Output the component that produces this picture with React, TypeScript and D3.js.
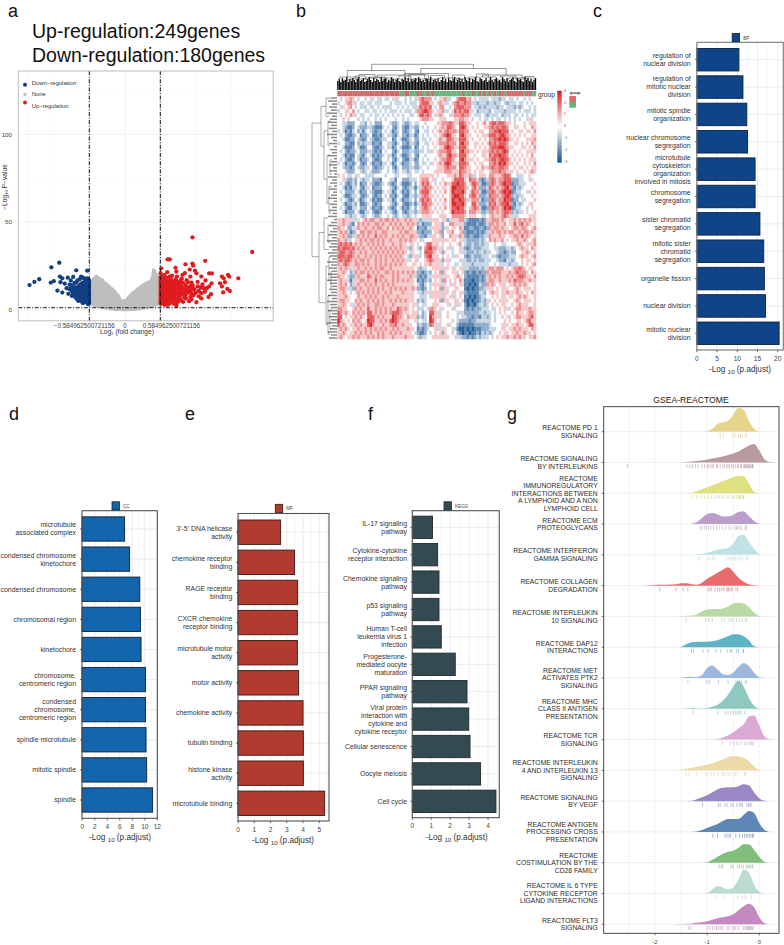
import React from "react";
import * as d3 from "d3";

const FONT = "'Liberation Sans', Arial, sans-serif";

/* ---------- a: volcano ---------- */
const downPoints: [number, number][] = [
[-1.57,14.2],[-1.49,16],[-1.41,17.5],[-1.21,24.3],[-1.08,26.9],[-1.22,15.6],[-1.17,16.4],[-1.07,19],[-1.06,15.8],[-1.03,18],[-1.11,11],[-1.03,9.9],[-.99,15],[-.96,12.4],[-.94,18.4],[-.93,9.2],[-.91,14.4],[-.89,16.8],[-.88,11],[-.87,8],[-.86,13],[-.85,18.8],[-.83,15.4],[-.82,9.8],[-.8,22.6],[-.8,12.2],[-.79,7],[-.78,16.8],[-.77,5.2],[-.76,10.2],[-.75,14],[-.74,17.6],[-.73,8],[-.72,19],[-.71,12],[-.7,6],[-.69,3.9],[-.69,15.6],[-.68,10],[-.67,18],[-.66,13.4],[-.65,7.6],[-.64,4.8],[-.64,16],[-.63,11],[-.62,22.4],[-.62,9],[-.62,14],[-.61,5.8],[-.61,17.6],[-.6,12],[-.6,7.4],[-.6,3.8],[-.59,15.6],[-.59,10],[-.59,13],[-.59,5],[-.59,8],[-.59,17],[-.63,6.6],[-.66,5.8],[-.69,8.4],[-.72,5],[-.75,7],[-.78,9],[-.81,7],[-.84,9.8],[-.75,11],[-.72,15],[-.68,12.6],[-.64,9],[-.61,3.4],[-.63,13.4],[-.65,11.4],[-.67,9],[-.7,10.4],[-.73,12.4],[-.77,13],[-.8,15.6],[-.84,12],[-.88,14],[-.92,12],[-.61,15],[-.61,11],[-.6,9],[-.6,6],[-.62,18],[-.65,16.6],[-.69,18.4],[-.71,8],[-.74,9.6],[-.77,7.4],[-.8,10],[-.83,11],[-.86,10],[-.66,4.6],[-.72,7],[-.65,14],[-.67,6.6],[-.59,3.8],
[-.59,4.5],[-.59,6.5],[-.59,9],[-.59,11.5],[-.59,14.5],[-.59,16],[-.61,4.5],[-.61,7],[-.61,9],[-.61,13],[-.62,5],[-.62,12],[-.62,16],[-.63,8],[-.63,10.5],[-.63,15],[-.65,6],[-.65,8.5],[-.65,12.5],[-.67,5],[-.67,7.5],[-.67,11],[-.67,14.5],[-.69,6],[-.69,11.5],[-.69,13.5],[-.71,5],[-.71,10],[-.71,13.5],[-.73,6],[-.73,10],[-.75,5.5],[-.75,9],[-.78,6],[-.78,11],[-.82,8],[-.82,13],[-.86,12]
];
const upPoints: [number, number][] = [
[1.115,41.3],[2.1,33],[.705,28.8],[.74,28.8],[1.325,28],[1.0,26],[1.115,26.4],[1.125,25.2],[.6,23.7],[.835,24],[.85,21.8],[1.07,23],[1.155,22.4],[1.18,20.9],[.99,21],[.95,20],[1.08,19],[1.26,19],[1.39,20.8],[1.435,20.8],[1.6,19],[1.63,18],[1.7,20],[1.72,19],[1.87,18],[1.57,15.2],[1.65,15.8],[1.6,13.4],[1.69,12],[1.73,10.8],[1.62,10],[1.43,15.2],[1.39,13.4],[1.35,12.4],[1.33,16.8],[1.18,4.4],[1.26,6.6],[1.38,7.4],[1.13,8.4],[1.26,9.6],[1.15,11.4],[1.32,10.4],[1.01,6.6],[.92,6],[.86,4.2],[.74,5],[.59,21],[.61,19],[.65,20],[.7,21.5],[.78,19.5],[.86,19],[.94,17.8],[1.02,17],[1.1,15.6],[1.2,16],[1.28,14.5],[.59,17],[.59,14],[.59,11],[.59,8],[.59,5],[.6,16],[.6,12.5],[.6,9.5],[.6,6.5],[.6,3.5],[.62,18],[.62,15],[.62,13],[.62,10.5],[.62,7.5],[.62,4.5],[.65,17],[.65,14.5],[.65,12],[.65,9],[.65,6],[.65,3.5],[.68,18.5],[.68,15.8],[.68,13],[.68,10],[.68,7.5],[.68,5],[.71,17],[.71,14],[.71,11.5],[.71,8.5],[.71,6],[.71,3],[.74,19],[.74,15.5],[.74,12.8],[.74,10],[.74,7],[.77,17],[.77,14],[.77,11],[.77,8.5],[.77,5],[.8,16],[.8,13],[.8,10],[.8,7],[.8,3.6],[.84,17.5],[.84,14.4],[.84,11.5],[.84,8.8],[.84,6],[.88,15.5],[.88,12.5],[.88,9.8],[.88,7],[.92,17],[.92,14],[.92,11],[.92,8.4],[.96,15.4],[.96,12.6],[.96,9.6],[.96,4.6],[1.0,14.2],[1.0,11],[1.0,8.6],[1.04,15.8],[1.04,12.6],[1.04,9.8],[1.08,13.6],[1.08,10.6],[1.08,7.4],[1.12,14],[1.14,12],[1.17,9.8],[1.2,13.4],[1.22,10.8],[1.25,12.8],[.82,5],[.9,5.2],[.98,7],[.73,3.6],[.66,2.9],[.85,2.5],[1.06,5],[1.22,7.8],[1.3,12.4],[1.42,9],[1.1,6],
[.59,4],[.59,6.5],[.59,9.5],[.59,12.5],[.59,15.5],[.59,18.5],[.6,7.8],[.6,11],[.6,14],[.63,5.5],[.63,8.8],[.63,11.8],[.63,16],[.66,4.5],[.66,7.5],[.66,10.5],[.66,13.4],[.66,16],[.69,4],[.69,6.4],[.69,9],[.69,11.8],[.69,14.6],[.69,17],[.72,4.4],[.72,7.4],[.72,10],[.72,12.8],[.72,15.6],[.75,5.6],[.75,8.6],[.75,11.4],[.75,14],[.75,17],[.78,6.6],[.78,10],[.78,12.6],[.78,15.4],[.82,8.4],[.82,11.6],[.82,14.6],[.86,6.4],[.86,10.4],[.86,13.4],[.86,16.2],[.9,8],[.9,12],[.9,15],[.94,10],[.94,13],[.98,12],[.98,9],[1.02,13],[1.06,11],[1.1,9.4],[1.1,12]
];
const greyX = [-.585,-.55,-.52,-.5,-.47,-.45,-.42,-.4,-.37,-.35,-.32,-.3,-.27,-.25,-.22,-.2,-.17,-.15,-.12,-.1,-.07,-.05,-.02,0,.03,.05,.08,.1,.13,.15,.18,.2,.23,.25,.28,.3,.33,.35,.38,.4,.43,.45,.47,.5,.52,.55,.585];
const greyTop = [15,15.5,18,18,19.5,19,18,17.5,17.5,16,15.5,15,14,13.5,12.5,12,11,10,9,8,6,5.5,5,5.5,6,7,8,9,10,10.5,11,12,12.5,13,14,14.5,15,15.5,16,16,17,18.5,23,22,20,19,21];
const greyBottom = [3,3,2.8,2.5,2.2,2,1.8,1.5,1.3,1.2,1,.9,.8,.6,.5,.4,.3,.2,.2,.1,.1,0,0,0,0,0,.1,.1,.2,.2,.3,.4,.5,.6,.8,.9,1,1.2,1.3,1.5,1.8,2,2.2,2.5,2.8,3,3];
const volcanoXTicks = [-0.584962500721156, 0, 0.584962500721156];
const volcanoXLabels = ["\u22120.584962500721156", "0", "0.584962500721156"];
const volcanoYTicks = [0, 50, 100];
const volcanoLegend = [["Down\u2212regulation", "#123f80"], ["None", "#bebebe"], ["Up\u2212regulation", "#e01b1f"]];

/* ---------- b: heatmap ---------- */
const heatRows = [
"4345565434 4345343343 3435344343 4356766643 4556334467 7756434333 3433323343 3434434344",
"3445665343 3433433344 4343334343 3346777554 5653345676 6766332333 2332334323 3343343434",
"4354564343 3343343433 3344343434 3357676743 4664434677 7666433232 3333233433 3232344343",
"3445546434 4334334343 4333434333 4366787654 5563345767 6775342333 3243333233 3343433343",
"4345465343 3443433434 3434343443 3457767643 5654435666 7665433343 2333342333 4334343433",
"4454544434 3434434343 4443443434 4445666554 4553444556 6554344343 3434334343 4343443534",
"4433222443 3243422244 4322343223 4334434444 5566676557 7655445456 4677677655 4544454555",
"4432112432 2233211134 3421342113 3224343445 4565776547 8754545445 5676767764 4554454465",
"3431213423 1343212243 4312342123 4214433454 5656766657 7664454554 4667787774 5445545546",
"4342112341 2234112134 3321342213 3124343445 4567875547 8655445455 5777678765 4545454455",
"4431122432 1243211233 4412431123 4224334344 5655776557 7754544545 4667787875 5454445556",
"3442211423 2333122144 3321342213 3214433454 5666766647 8664455454 5767677764 4554545465",
"4431112431 1244211234 3312431112 4124343445 4557876557 7754454545 4677788765 5444554546",
"4342122342 2233212143 4421342223 3223343354 5666775547 8665545455 5676767874 4545445555",
"4431211432 1343121234 3312431123 4214434444 5655786657 7754454455 4767787764 5454545464",
"4342112431 2234211244 3421342113 3124343445 4566776547 8655545445 5677678775 4545454555",
"3431221342 1243122133 4312431223 4224334354 5657875557 7764454554 4667687865 5454454546",
"4432212432 2334212234 3421342223 3223443444 5556766647 7655445465 5676677664 4545545455",
"4443222443 2343222344 3432343323 4334344445 5556665557 6655454554 4566676655 5454454565",
"5454334354 4333344443 4443344433 4445555554 5444555657 6556334555 4665556776 4433344544",
"4453223243 2334222144 4331442223 3345666453 4454445777 7547665212 3676566777 2223344354",
"4342123241 2243211234 3212431112 4245767543 4546557787 7645776311 2676567877 1223534445",
"4431213342 1334122244 4321342123 3135676654 5455458877 7634675222 3765656786 2132344454",
"4342222431 2243211134 3312431213 4246777543 4546458777 8645766311 2676567878 1233443545",
"4431123342 1234212243 4221342113 3235676554 5454457887 7546775222 3766656787 2323344454",
"4343212431 2343121134 3312431223 4246767643 4546458778 7635666312 2676566877 1224534445",
"4431223241 1234212244 4321342112 3135776654 5455458877 8644775222 3767567786 2132344554",
"4342113342 2243122134 3212431213 4245676543 4546457787 7545676311 2676656878 1233443454",
"4431222431 1334211243 4321342123 3235666554 5454458777 7646665322 3665656776 2323345445",
"4443323343 2344322344 3432343323 4344555544 4555446666 6545554433 4565556765 3334444555",
"5565553354 5656655656 6565655656 5532333355 5455235556 6321111212 5566656545 5656565655",
"5565321465 6565566565 5656565565 6523122245 5524466535 5211112112 3665655645 5756756545",
"6554223565 5655656655 6465656556 5412213355 5523545546 5112211221 2656656554 5665665456",
"5656312546 6566565566 5555565665 5522122245 5624556445 6211121212 3565665656 6556566565",
"5565223565 6565575656 5565656556 6532213355 4524465536 5212211223 3655565545 5665756545",
"6556334556 5656656565 5655565656 5543344455 5535545545 5322222323 4656556454 5565565456",
"6767675656 5565656565 5565565543 5434457755 5454454456 4322322323 3443443344 4456545556",
"7677767565 6556565656 5656565532 5432467866 5534533445 3212322233 3443322233 2345655465",
"6776676556 5655656565 6565656543 5443477765 4525443445 3322232332 3344322123 2244556545",
"7776776565 5656565656 5656565432 5533467855 5434543354 4212322233 3433212223 3345655456",
"6767765656 6565565656 5565656533 4534456765 5525534445 3322323223 3344322133 2344545545",
"6567655665 6565565656 5656565544 5545455655 5534544334 3333233333 3443433332 3334545456",
"5656535565 5656565665 5655555555 5432334455 5535545545 5332222323 5665666454 5667654554",
"5565423656 6565656556 6565656565 6522123245 4625445534 5212112122 6566665556 5676665465",
"6554322565 5576565665 5565655556 5321213355 5535544565 4211111212 5656565565 6567765546",
"5655313556 6565575656 5565656565 5412123245 4526454546 5111011212 5665565556 5766655655",
"5656423565 5656565565 6565555555 5432134355 5535453545 5110101322 6565455545 5656565445",
"5665332656 5565656565 5656565655 6522124345 4625544554 4101011223 5554545554 4565455545",
"5565434565 6565656556 5655556555 5433235355 5535543545 5211111332 4565545565 5565545465",
"5556544465 5656565565 6555655555 5443334355 5535453545 4110101233 4454545545 5456565445",
"5665544656 5565656565 5656565655 5423234445 4625544554 5101011232 3545455554 4565455545",
"5565453565 6565566565 5565555554 5534334455 5444534535 4201102332 3454545544 5456555445",
"6655445656 5575565656 5655765654 5433343665 4534443544 4212122233 3433454553 4566555655",
"7656546565 6577565656 5677765554 5534234775 5344544433 3222222332 3343454544 5465545665",
"7745455656 5477756565 5587665465 5523234865 5344544434 3322122133 2343443453 4566555675",
"8654546565 4587755656 5787655554 4534334875 4544443432 2221223333 3343444545 4455456755",
"7565455656 5578655565 5667556555 4423223765 3544534421 1111122222 2344445554 5565545775",
"5656545565 5656565656 5565655565 5412123445 3535443310 0101011122 2333445545 5656555465",
"5565455656 5656556565 5656565555 4321124345 4525443421 0110112132 3234454554 5565565545",
"5654556565 5565656565 5565555655 5432334455 5535544533 2212123233 3454545565 5656554556",
].map((r) => r.replace(/ /g, ""));
const groupStrip = "RRRRRRRRRRRRRRRRRRRRRRRRRGGRRGGGRRGGRGRGGGGGGGGGGGRGGGRGGRGRGRGRGRRGRRRRRRRGRRGG";
const colLeafHeights = [9,11,8,12,9,10,13,8,11,9,12,10,8,11,13,9,10,12,8,9,11,13,10,8,12,9,11,10,8,13,9,11,12,8,10,9,13,11,8,10,12,9,8,11,10,13,9,12,8,11,9,10,12,8,13,11,9,10,8,12,11,9,13,8,10,11,9,12,8,10,13,9,11,8,12,10,9,11,13,8,10,12,9,11,8,13,10,9,12,8,11,10,13,9,8,12,11,9,10,12,8,9,13,10,8,11,12,9,10,8,13,11,9,12,8,10,11,13,9,8,12,10,11,9,8,13,10,12,9,11,8,10,12];
const colMerges = [
[17.3,68.5,19.5,21.5,25.7],[5,34,13,15,19.5],[42,85,16.5,15,21.5],[1,10,10,11,13],[20,46,12,11,15],[14,27,11,10,12],[34,56,11,12,16.5],[38,50,9,10,11],[73,93,13,12,15],[66,80,11,10,13],[86,98,10,11,12],[28,40,10,9,11],[51,62,10,10,12],[6,15,9,9,11],[60,70,9,10,11],[3,8,8,9,10],[22,30,9,8,10],[44,48,9,9,10],[76,84,9,9,10],[90,96,9,9,11],
[9,14,11,10,14],[16,24,11,10,13],[31,37,12,11,14],[47,54,12,11,14.5],[58,64,11,11,15],[70,76,12,12,16],[82,90,12,11,14],[94,99,11,10,13.5],[11,19,12,11,15.5],[36,44,12,11,15.5]
];
const rowLeafHeights = [6,9,5,8,6,10,5,7,9,6,8,5,10,6,4,8,3,7,5,9,3,6,8,4,7,3,9,5,7,3,8,4,6,9,3,7,5,8,4,9,3,6,8,4,7,9,5,10,6,8,5,9,7,5,10,6,8,5,9,6,10,7,5,8,6,9,5,10,7,6,9,5,8,6,10,5,7,9,6,8];
const rowMerges = [
[10.8,66,16,18,25],[3.9,20.4,11,13,16],[0.5,8,6,8,11],[14,34,9,10,13],[10,20,6,7,9],[24,44,7,8,10],[37,48,5,6,8],[56,85,13,11,18],[50,63,9,8,13],[53,60,6,6,9],[70,94,8,9,11],[66,76,6,7,8],[82,98,6,7,9],[88,96,5,5,7],[26,32,5,5,7],[72,79,5,5,6]
];
const heatLegendTicks = [3, 2, 1, 0, -1, -2, -3];

/* ---------- c-f: enrichment bars ---------- */
const bpLabels = ["regulation of\nnuclear division","regulation of\nmitotic nuclear\ndivision","mitotic spindle\norganization","nuclear chromosome\nsegregation","microtubule\ncytoskeleton\norganization\ninvolved in mitosis","chromosome\nsegregation","sister chromatid\nsegregation","mitotic sister\nchromatid\nsegregation","organelle fission","nuclear division","mitotic nuclear\ndivision"];
const bpValues = [10.4,11.4,12.35,12.55,14.4,14.4,15.6,16.55,16.7,17,20.35];
const bpTicks = [0,5,10,15,20];
const ccLabels = ["microtubule\nassociated complex","condensed chromosome\nkinetochore","condensed chromosome","chromosomal region","kinetochore","chromosome,\ncentromeric region","condensed\nchromosome,\ncentromeric region","spindle microtubule","mitotic spindle","spindle"];
const ccValues = [6.77,7.57,9.2,9.3,9.4,10.1,10.1,10.2,10.3,11.25];
const ccTicks = [0,2,4,6,8,10,12];
const mfLabels = ["3'-5' DNA helicase\nactivity","chemokine receptor\nbinding","RAGE receptor\nbinding","CXCR chemokine\nreceptor binding","microtubule motor\nactivity","motor activity","chemokine activity","tubulin binding","histone kinase\nactivity","microtubule binding"];
const mfValues = [2.62,3.48,3.67,3.65,3.65,3.73,4.0,4.02,4.02,5.33];
const mfTicks = [0,1,2,3,4,5];
const keggLabels = ["IL-17 signaling\npathway","Cytokine-cytokine\nreceptor interaction","Chemokine signaling\npathway","p53 signaling\npathway","Human T-cell\nleukemia virus 1\ninfection","Progesterone-\nmediated oocyte\nmaturation","PPAR signaling\npathway","Viral protein\ninteraction with\ncytokine and\ncytokine receptor","Cellular senescence","Oocyte meiosis","Cell cycle"];
const keggValues = [1.07,1.34,1.41,1.41,1.53,2.27,2.89,2.98,3.05,3.61,4.42];
const keggTicks = [0,1,2,3,4];

/* ---------- g: GSEA ridges ---------- */
const ridgeLabels = ["REACTOME PD 1\nSIGNALING","REACTOME SIGNALING\nBY INTERLEUKINS","REACTOME\nIMMUNOREGULATORY\nINTERACTIONS BETWEEN\nA LYMPHOID AND A NON\nLYMPHOID CELL","REACTOME ECM\nPROTEOGLYCANS","REACTOME INTERFERON\nGAMMA SIGNALING","REACTOME COLLAGEN\nDEGRADATION","REACTOME INTERLEUKIN\n10 SIGNALING","REACTOME DAP12\nINTERACTIONS","REACTOME MET\nACTIVATES PTK2\nSIGNALING","REACTOME MHC\nCLASS II ANTIGEN\nPRESENTATION","REACTOME TCR\nSIGNALING","REACTOME INTERLEUKIN\n4 AND INTERLEUKIN 13\nSIGNALING","REACTOME SIGNALING\nBY VEGF","REACTOME ANTIGEN\nPROCESSING CROSS\nPRESENTATION","REACTOME\nCOSTIMULATION BY THE\nCD28 FAMILY","REACTOME IL 6 TYPE\nCYTOKINE RECEPTOR\nLIGAND INTERACTIONS","REACTOME FLT3\nSIGNALING"];
const ridgeColors = ["#e6d48c","#b99a9e","#dfe080","#bc9ecd","#c0e2e7","#ea6b6b","#b9daa5","#5fb3c3","#9db8de","#8fc8be","#dba9d3","#ecdaa9","#9b88c7","#5f87b5","#81be79","#bddcd1","#c588c0"];
const ridgeStarts = [-1.1,-1.5,-1.4,-1.4,-1.3,-2.2,-1.6,-1.6,-1.6,-1.5,-.9,-1.6,-1.4,-1.3,-1.1,-1.1,-1.6];
const ridgeHeights = [
[0,.5,3,8,9.5,11,17,24,22,11,3,.3,0],
[0,.5,1,1.5,2,3,4,5,6,7.5,9,11,14,17,18.5,12,3,.5,0],
[0,.5,2,4,6,8,10,12,14,16,17.5,17,10,1.5,0,0],
[0,.3,2,6,10,11,9.5,7.5,7.5,9,12,12.5,8,3,.3,0],
[0,.5,1,2,3.5,5,6,7,11,19,20,13,6,.7,0],
[0,.3,.7,1,1,1.2,1.5,2.5,2.5,1.5,1,3,7,10,13,16,18.5,14,8,4,1.5,.4,0],
[0,.3,.7,1,2,5,7,7.5,7.5,8,10,13,13.7,13,9.5,4,.5,0],
[0,.3,3,5,5.5,5.5,5.5,6,7,9,11,13,13,11,7,1,0],
[0,.2,1,1.3,1,3,10,12.5,8.5,4,3,5.5,11,15,12,5.5,.7,0],
[0,.2,.8,.5,.2,.7,2,4,8,14,22,28,22,11,3,.3,0],
[0,.5,2,4,7,11,15,23,24,14,3,.3,0],
[0,.5,1.5,2.5,3.5,4.5,5.5,7,9,11,13,14.3,14,12.5,9,4,.5,0],
[0,.3,2,4,6,9,12,13.5,14,14,15,17,16,9,3,.3,0],
[0,.5,2,4,6,8,11,13,13,13,17,21,19,9,2,0],
[0,.5,3,6,9,11,12,15,18.5,18.5,13,6,1,0],
[0,.5,4,7.5,6,4,6,14,24,21,9,1.5,0],
[0,.2,.5,.8,1.5,2,3,4.5,6,7,8,10,14,18,20.5,17,7,1,0],
];
const ridgeRugs = [
[-.75,-.69,-.51,-.47,-.4,-.36,-.32,-.27,-.24],
[-2.53,-1.39,-1.33,-1.28,-1.22,-1.17,-1.1,-1.05,-1.0,-.97,-.93,-.9,-.87,-.82,-.8,-.75,-.7,-.67,-.63,-.6,-.57,-.53,-.5,-.46,-.42,-.4,-.36,-.34,-.3,-.28,-.27,-.25,-.23,-.21,-.2,-.18,-.16,-.14,-.13,-.12],
[-1.28,-1.2,-1.12,-1.05,-.98,-.92,-.85,-.8,-.76,-.72,-.68,-.62,-.58,-.52,-.48,-.44,-.4,-.38,-.36,-.33,-.31,-.3],
[-1.13,-1.09,-1.05,-1.01,-.97,-.93,-.88,-.82,-.76,-.7,-.64,-.58,-.54,-.47,-.44,-.42,-.38,-.35,-.27,-.25],
[-1.16,-1.0,-.95,-.9,-.86,-.63,-.58,-.54,-.5,-.46,-.42,-.38,-.33,-.25,-.22],
[-1.91,-1.6,-1.46,-1.37,-.98,-.95,-.92,-.85,-.8,-.76,-.72,-.68,-.62,-.6,-.58,-.54,-.52,-.45,-.42],
[-1.4,-1.03,-.97,-.9,-.72,-.66,-.58,-.54,-.5,-.44,-.38,-.33,-.27,-.24],
[-1.3,-1.26,-1.08,-.98,-.83,-.74,-.62,-.56,-.53,-.44,-.4,-.31,-.3],
[-1.37,-1.02,-.98,-.95,-.78,-.6,-.45,-.41,-.38,-.34,-.27,-.24],
[-1.27,-.8,-.65,-.6,-.55,-.5,-.46,-.43,-.4,-.37,-.34,-.28],
[-.71,-.55,-.48,-.43,-.39,-.34,-.28,-.24,-.19,-.16,-.14,-.12],
[-1.4,-1.35,-1.2,-1.03,-.98,-.92,-.87,-.8,-.72,-.69,-.65,-.6,-.56,-.5,-.46,-.42,-.28,-.26],
[-1.09,-.78,-.75,-.66,-.62,-.54,-.5,-.43,-.38,-.35,-.32,-.24,-.21,-.18,-.16],
[-.89,-.8,-.66,-.62,-.58,-.55,-.45,-.38,-.32,-.28,-.25,-.22,-.19,-.16,-.13,-.11],
[-.77,-.73,-.7,-.54,-.5,-.42,-.38,-.34,-.3,-.25,-.22,-.19,-.16,-.13],
[-.83,-.67,-.42,-.33,-.29,-.25,-.15],
[-1.36,-1.31,-1.0,-.95,-.9,-.85,-.82,-.78,-.74,-.7,-.62,-.58,-.52,-.48,-.45,-.4,-.3,-.27,-.24,-.22,-.2,-.18,-.16,-.14,-.12],
];
const ridgeXTicks = [-2, -1, 0];
const ridgeGridX = [-2.5, -2, -1.5, -1, -.5, 0];

/* ---------- helpers ---------- */
function Lines({ x, y, text, size, gap, color = "#333" }: any) {
  const ls = text.split("\n");
  return (
    <text x={x} y={y} fontSize={size} fill={color} textAnchor="end" fontFamily={FONT}>
      {ls.map((l: string, i: number) => (
        <tspan key={i} x={x} y={y + (i - (ls.length - 1) / 2) * gap + size * 0.35}>{l}</tspan>
      ))}
    </text>
  );
}

function Bars({ frame, scaleDef, labels, values, ticks, centers, barH, fill, stroke, legend, labelRight, tickY, titleX, titleY, frameColor }: any) {
  const [x0, x1, y0, y1] = frame;
  const scale = d3.scaleLinear().domain([scaleDef[0], scaleDef[1]]).range([scaleDef[2], scaleDef[3]]);
  const ys = d3.scalePoint<string>().domain(labels).range(centers);
  const step = ticks[1] - ticks[0];
  const minor = ticks.map((t: number) => t + step / 2).filter((t: number) => scale(t) < x1);
  return (
    <g>
      {minor.map((t: number) => <line key={t} x1={scale(t)} x2={scale(t)} y1={y0} y2={y1} stroke="#f1f1f1" strokeWidth={0.6} />)}
      {ticks.map((t: number) => <line key={t} x1={scale(t)} x2={scale(t)} y1={y0} y2={y1} stroke="#e6e6e6" strokeWidth={0.8} />)}
      {labels.map((l: string) => <line key={l} x1={x0} x2={x1} y1={ys(l)} y2={ys(l)} stroke="#e6e6e6" strokeWidth={0.8} />)}
      {labels.map((l: string, i: number) => (
        <rect key={l} x={x0} y={ys(l)! - barH / 2} width={scale(values[i]) - x0} height={barH} fill={fill} stroke={stroke} strokeWidth={0.9} />
      ))}
      <rect x={x0} y={y0} width={x1 - x0} height={y1 - y0} fill="none" stroke={frameColor} strokeWidth={1.1} />
      {labels.map((l: string) => (
        <g key={l}>
          <line x1={x0 - 2} x2={x0} y1={ys(l)} y2={ys(l)} stroke="#333" strokeWidth={0.7} />
          <Lines x={labelRight} y={ys(l)} text={l} size={6.9} gap={8} />
        </g>
      ))}
      {ticks.map((t: number) => (
        <g key={t}>
          <line x1={scale(t)} x2={scale(t)} y1={y1} y2={y1 + 2.2} stroke="#333" strokeWidth={0.7} />
          <text x={scale(t)} y={tickY} fontSize={6.6} fill="#444" textAnchor="middle" fontFamily={FONT}>{t}</text>
        </g>
      ))}
      <text x={titleX} y={titleY} fontSize={8.2} fill="#333" textAnchor="middle" fontFamily={FONT}>
        -Log <tspan fontSize={6.2} dy={2}>10</tspan><tspan dy={-2}> (p.adjust)</tspan>
      </text>
      <rect x={legend[0]} y={legend[1]} width={7.4} height={8.2} fill={fill} stroke={stroke} strokeWidth={0.8} />
      <text x={legend[0] + 11} y={legend[1] + 6} fontSize={4.6} fill="#444" fontFamily={FONT}>{legend[2]}</text>
    </g>
  );
}

function Volcano() {
  const x = d3.scaleLinear().domain([-0.5849625, 0.5849625]).range([89.3, 160.3]);
  const y = d3.scaleLinear().domain([0, 100]).range([310, 134.3]);
  const [L, R, T, B] = [18.3, 273.2, 71, 320.8];
  const area = d3.area<number>().x((d) => x(greyX[d])).y0((d) => y(greyBottom[d])).y1((d) => y(greyTop[d]));
  const labelShift = [-5, 0, 11];
  return (
    <g>
      {[25, 75, 125].map((t) => <line key={t} x1={L} x2={R} y1={y(t)} y2={y(t)} stroke="#f5f5f5" strokeWidth={0.6} />)}
      {volcanoYTicks.map((t) => <line key={t} x1={L} x2={R} y1={y(t)} y2={y(t)} stroke="#ececec" strokeWidth={0.8} />)}
      {[-1.17, 1.17, 1.75, -1.6].map((t) => <line key={t} x1={x(t)} x2={x(t)} y1={T} y2={B} stroke="#f3f3f3" strokeWidth={0.6} />)}
      {volcanoXTicks.map((t) => <line key={t} x1={x(t)} x2={x(t)} y1={T} y2={B} stroke="#ececec" strokeWidth={0.8} />)}
      <path d={area(d3.range(greyX.length))!} fill="#bebebe" stroke="#bebebe" strokeWidth={2.5} strokeLinejoin="round" />
      {downPoints.map((p, i) => <circle key={i} cx={x(p[0])} cy={y(p[1])} r={2.15} fill="#123f80" />)}
      {upPoints.map((p, i) => <circle key={i} cx={x(p[0])} cy={y(p[1])} r={2.15} fill="#e01b1f" />)}
      {[volcanoXTicks[0], volcanoXTicks[2]].map((t) => (
        <line key={t} x1={x(t)} x2={x(t)} y1={T} y2={B} stroke="#111" strokeWidth={1} strokeDasharray="4 1.6 1 1.6" />
      ))}
      <line x1={L} x2={R} y1={y(1.3)} y2={y(1.3)} stroke="#111" strokeWidth={1} strokeDasharray="4 1.6 1 1.6" />
      <rect x={L} y={T} width={R - L} height={B - T} fill="none" stroke="#bdbdbd" strokeWidth={1} />
      {volcanoYTicks.map((t) => <text key={t} x={12} y={y(t) + 2.2} fontSize={6.2} fill="#444" textAnchor="end" fontFamily={FONT}>{t}</text>)}
      {volcanoXTicks.map((t, i) => (
        <text key={t} x={x(t) + labelShift[i]} y={328} fontSize={6.3} fill="#444" textAnchor="middle" fontFamily={FONT}>{volcanoXLabels[i]}</text>
      ))}
      <text x={127} y={334} fontSize={6.6} fill="#333" textAnchor="middle" fontFamily={FONT}>
        Log<tspan fontSize={4.4} dy={1.4}>2</tspan><tspan dy={-1.4}> (fold change)</tspan>
      </text>
      <text transform="translate(6.5,187) rotate(-90)" fontSize={6.6} fill="#333" textAnchor="middle" fontFamily={FONT}>
        {"\u2212Log"}<tspan fontSize={4.4} dy={1.4}>10</tspan><tspan dy={-1.4}>{" P\u2212value"}</tspan>
      </text>
      {volcanoLegend.map((l, i) => {
        const yy = [84.8, 94.3, 102.5][i];
        const ty = [82.8, 94.3, 106][i];
        return (
          <g key={l[0]}>
            <circle cx={25} cy={yy} r={i === 1 ? 1.6 : 2} fill={l[1]} />
            <text x={31.8} y={ty + 2} fontSize={5.9} fill="#333" fontFamily={FONT}>{l[0]}</text>
          </g>
        );
      })}
      <text x={32} y={38} fontSize={19.5} fill="#111" fontFamily={FONT}>Up-regulation:249genes</text>
      <text x={32} y={62} fontSize={19.5} fill="#111" fontFamily={FONT}>Down-regulation:180genes</text>
    </g>
  );
}

function Heatmap() {
  const cols = d3.range(heatRows[0].length);
  const x = d3.scaleBand<number>().domain(cols).range([337.3, 536]);
  const y = d3.scaleBand<number>().domain(d3.range(heatRows.length)).range([97, 339]);
  const color = d3.scaleLinear<string>().domain([-3, 0, 3]).range(["#14508f", "#ffffff", "#d7191c"]);
  const dx = d3.scaleLinear().domain([0, 100]).range([337.3, 536]);
  const dy = d3.scaleLinear().domain([0, 26]).range([90, 64]);
  const rx = d3.scaleLinear().domain([0, 25]).range([337, 312]);
  const ry = d3.scaleLinear().domain([0, 100]).range([97, 339]);
  const leafX = d3.scaleLinear().domain([0, colLeafHeights.length - 1]).range([337.8, 535.5]);
  const leafY = d3.scaleLinear().domain([0, rowLeafHeights.length - 1]).range([98, 338]);
  const gradStops = d3.range(0, 1.01, 0.1);
  return (
    <g>
      <defs>
        <linearGradient id="hg" x1="0" x2="0" y1="0" y2="1">
          {gradStops.map((s) => <stop key={s} offset={s} stopColor={color(3 - 6 * s)} />)}
        </linearGradient>
      </defs>
      {heatRows.map((row, r) => cols.map((c) => (
        <rect key={r + "-" + c} x={x(c)} y={y(r)} width={x.bandwidth() + 0.3} height={y.bandwidth() + 0.3} fill={color((+row[c] - 4) * 0.7)} />
      )))}
      {cols.map((c) => (
        <rect key={c} x={x(c)} y={91} width={x.bandwidth() + 0.2} height={5.3} fill={groupStrip[c] === "R" ? "#d2696a" : "#6cb27e"} />
      ))}
      {colLeafHeights.map((h, i) => (
        <line key={i} x1={leafX(i)} x2={leafX(i)} y1={dy(0)} y2={dy(h)} stroke="#000" strokeWidth={1.3} />
      ))}
      {colMerges.map((m, i) => (
        <path key={i} d={`M${dx(m[0])},${dy(m[2])}V${dy(m[4])}H${dx(m[1])}V${dy(m[3])}`} fill="none" stroke="#333" strokeWidth={0.5} />
      ))}
      {rowLeafHeights.map((h, i) => (
        <line key={i} y1={leafY(i)} y2={leafY(i)} x1={rx(0)} x2={rx(h)} stroke="#8a8a8a" strokeWidth={1.5} />
      ))}
      {rowMerges.map((m, i) => (
        <path key={i} d={`M${rx(m[2])},${ry(m[0])}H${rx(m[4])}V${ry(m[1])}H${rx(m[3])}`} fill="none" stroke="#555" strokeWidth={0.5} />
      ))}
      <text x={538} y={97.3} fontSize={6.6} fill="#333" fontFamily={FONT}>group</text>
      <rect x={557.3} y={90.7} width={4.4} height={72} fill="url(#hg)" />
      {heatLegendTicks.map((t, i) => (
        <text key={t} x={564} y={91.7 + i * 11.8} fontSize={3.4} fill="#444" fontFamily={FONT}>{t}</text>
      ))}
      <text x={570} y={93.8} fontSize={3.6} fontWeight="bold" fill="#222" fontFamily={FONT}>group</text>
      <rect x={569.3} y={96} width={6.7} height={6} fill="#de6b6c" />
      <rect x={569.3} y={102} width={6.7} height={5.7} fill="#5fb878" />
    </g>
  );
}

function Ridges() {
  const [L, R, T, B] = [603.7, 779, 406.7, 933.3];
  const x = d3.scaleLinear().domain([-2, 0]).range([655, 759.3]);
  const base = d3.scalePoint<string>().domain(ridgeLabels).range([431.7, 924.3]);
  const h = d3.scaleLinear().domain([0, 30]).range([0, 30]);
  return (
    <g>
      {ridgeGridX.map((t) => <line key={t} x1={x(t)} x2={x(t)} y1={T} y2={B} stroke="#ececec" strokeWidth={0.7} />)}
      {ridgeLabels.map((l) => <line key={l} x1={L} x2={R} y1={base(l)} y2={base(l)} stroke="#e6e6e6" strokeWidth={0.7} />)}
      {ridgeLabels.map((l, i) => {
        const b = base(l)!;
        const vals = ridgeHeights[i];
        const area = d3.area<number>().x((_, k) => x(ridgeStarts[i] + k * 0.1)).y0(b).y1((v) => b - h(v)).curve(d3.curveMonotoneX);
        return (
          <g key={l}>
            <path d={area(vals)!} fill={ridgeColors[i]} />
            {ridgeRugs[i].map((v, k) => (
              <line key={k} x1={x(v)} x2={x(v)} y1={b + 1.7} y2={b + 5.7} stroke={d3.color(ridgeColors[i])!.darker(0.25).formatHex()} strokeWidth={0.7} strokeOpacity={0.75} />
            ))}
          </g>
        );
      })}
      <rect x={L} y={T} width={R - L} height={B - T} fill="none" stroke="#333" strokeWidth={0.9} />
      {ridgeLabels.map((l) => (
        <g key={l}>
          <line x1={L - 2} x2={L} y1={base(l)} y2={base(l)} stroke="#333" strokeWidth={0.7} />
          <Lines x={597.7} y={base(l)!} text={l} size={6.8} gap={7.5} color="#2a2a2a" />
        </g>
      ))}
      {ridgeXTicks.map((t) => (
        <g key={t}>
          <line x1={x(t)} x2={x(t)} y1={B} y2={B + 2} stroke="#333" strokeWidth={0.7} />
          <text x={x(t)} y={943.5} fontSize={5.8} fill="#444" textAnchor="middle" fontFamily={FONT}>{t}</text>
        </g>
      ))}
      <text x={691} y={403} fontSize={8.6} fill="#222" textAnchor="middle" fontFamily={FONT}>GSEA-REACTOME</text>
    </g>
  );
}

const panelTags: [string, number, number][] = [["a",8,16.5],["b",296,16.5],["c",593,16.5],["d",9,420],["e",185,420],["f",368,420],["g",507,420]];

export default function App() {
  return (
    <svg width={784} height={945} viewBox="0 0 784 945" style={{ position: "absolute", left: 0, top: 0, background: "#fff" }}>
      {panelTags.map(([t, x, y]) => (
        <text key={t} x={x} y={y} fontSize={18} fill="#111" fontFamily={FONT}>{t}</text>
      ))}
      <Volcano />
      <Heatmap />
      <Bars frame={[696.9, 783.3, 42.3, 350]} scaleDef={[0, 20, 696.9, 777.7]} labels={bpLabels} values={bpValues} ticks={bpTicks} centers={[59.7, 333.3]} barH={22.5} fill="#0f4488" stroke="#0a2240" legend={[732.2, 33.5, "BP"]} labelRight={690.7} tickY={360.5} titleX={740} titleY={372} frameColor="#777" />
      <Bars frame={[82, 157.3, 510.7, 818.3]} scaleDef={[0, 12, 82.3, 157.3]} labels={ccLabels} values={ccValues} ticks={ccTicks} centers={[529, 800]} barH={24.3} fill="#1366ae" stroke="#0b2238" legend={[112, 501.8, "CC"]} labelRight={76} tickY={829} titleX={120} titleY={840} frameColor="#555" />
      <Bars frame={[238, 329, 513.5, 821]} scaleDef={[0, 5, 238, 319.3]} labels={mfLabels} values={mfValues} ticks={mfTicks} centers={[532.2, 803.3]} barH={24.4} fill="#b23a2e" stroke="#3a1712" legend={[275.3, 504.3, "MF"]} labelRight={232.3} tickY={832} titleX={283} titleY={843} frameColor="#555" />
      <Bars frame={[412.3, 499.3, 510.7, 817.7]} scaleDef={[0, 4, 412.3, 488]} labels={keggLabels} values={keggValues} ticks={keggTicks} centers={[527.3, 801.3]} barH={22.3} fill="#344a52" stroke="#1c2a2f" legend={[444, 501.8, "KEGG"]} labelRight={407} tickY={828} titleX={456.7} titleY={840} frameColor="#555" />
      <Ridges />
    </svg>
  );
}
